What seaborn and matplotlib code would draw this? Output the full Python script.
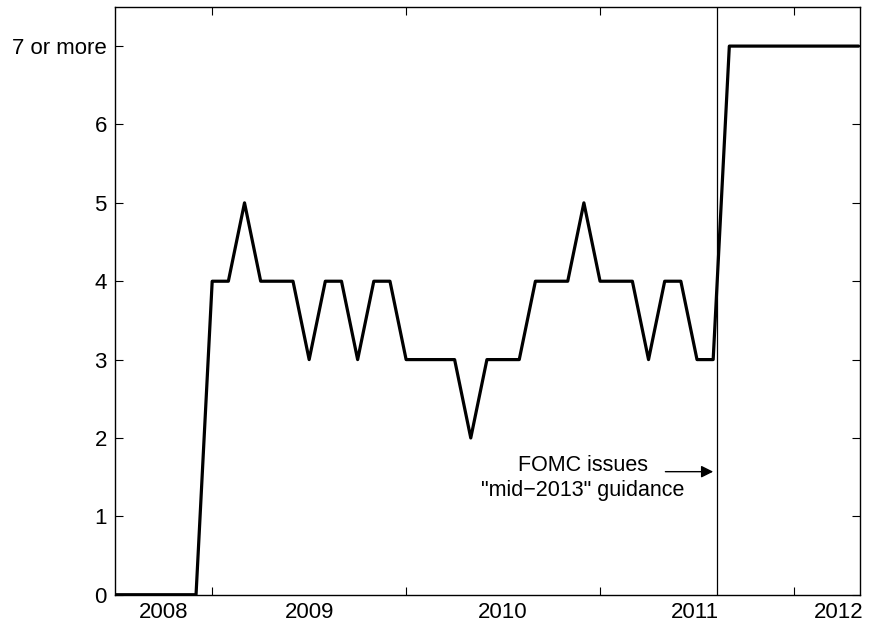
import seaborn as sns
import pandas as pd
import matplotlib.pyplot as plt

# ---------------- DATA ----------------
# survey reading, monthly from Jul 2008 to May 2012
vals_2008 = [0, 0, 0, 0, 0, 0]                      # Jul-Dec
vals_2009 = [4, 4, 5, 4, 4, 4, 3, 4, 4, 3, 4, 4]
vals_2010 = [3, 3, 3, 3, 2, 3, 3, 3, 4, 4, 4, 5]
vals_2011 = [4, 4, 4, 3, 4, 4, 3, 3, 7, 7, 7, 7]
vals_2012 = [7, 7, 7, 7, 7]                         # Jan-May
values = vals_2008 + vals_2009 + vals_2010 + vals_2011 + vals_2012

year_ticks = [2009, 2010, 2011, 2012]
year_labels = ["2008", "2009", "2010", "2011", "2012"]
year_label_pos = [2008.75, 2009.5, 2010.5, 2011.49, 2012.23]
y_ticks = [0, 1, 2, 3, 4, 5, 6, 7]
y_labels = ["0", "1", "2", "3", "4", "5", "6", "7 or more"]
fomc_date = pd.Timestamp("2011-08-09")
note = "FOMC issues\n\"mid\u22122013\" guidance"

dates = pd.date_range("2008-07-01", periods=len(values), freq="MS")
df = pd.DataFrame({"date": dates, "value": values})
df["t"] = df["date"].dt.year + (df["date"].dt.month - 1) / 12
fomc_t = fomc_date.year + (fomc_date.dayofyear - 1) / 365

# ---------------- STYLE ----------------
sns.set_style("ticks")
plt.rcParams["font.family"] = ["Liberation Sans", "DejaVu Sans"]
plt.rcParams["text.color"] = "black"
plt.rcParams["xtick.labelcolor"] = "black"
plt.rcParams["ytick.labelcolor"] = "black"

fig = plt.figure(figsize=(8.73, 6.28), dpi=100)
ax = fig.add_axes([0.132, 0.053, 0.853, 0.936])

sns.lineplot(data=df, x="t", y="value", color="black", linewidth=2.3, ax=ax)
ax.axvline(fomc_t, color="black", linewidth=0.9)

ax.annotate("", xy=(fomc_t - 0.005, 1.57), xytext=(fomc_t - 0.28, 1.57),
            arrowprops=dict(arrowstyle="-|>", color="black", lw=1.0,
                            mutation_scale=18))
ax.text(fomc_t - 0.69, 1.49, note, ha="center", va="center",
        fontsize=15.5, linespacing=1.2, color="black")

ax.set_xlim(2008.5, 2012.34)
ax.set_ylim(0, 7.5)

ax.set_xticks(year_ticks)
ax.set_xticklabels([])
ax.set_xticks(year_label_pos, minor=True)
ax.set_xticklabels(year_labels, minor=True, fontsize=16)
ax.tick_params(axis="x", which="minor", length=0, pad=5)
ax.set_yticks(y_ticks)
ax.set_yticklabels(y_labels, fontsize=16)
ax.tick_params(which="major", direction="in", length=6, width=0.8,
               top=True, right=True, color="black")
ax.tick_params(axis="y", pad=6)
ax.set_xlabel("")
ax.set_ylabel("")
for s in ax.spines.values():
    s.set_color("black")
    s.set_linewidth(1.0)

fig.savefig("out.png", dpi=100)
